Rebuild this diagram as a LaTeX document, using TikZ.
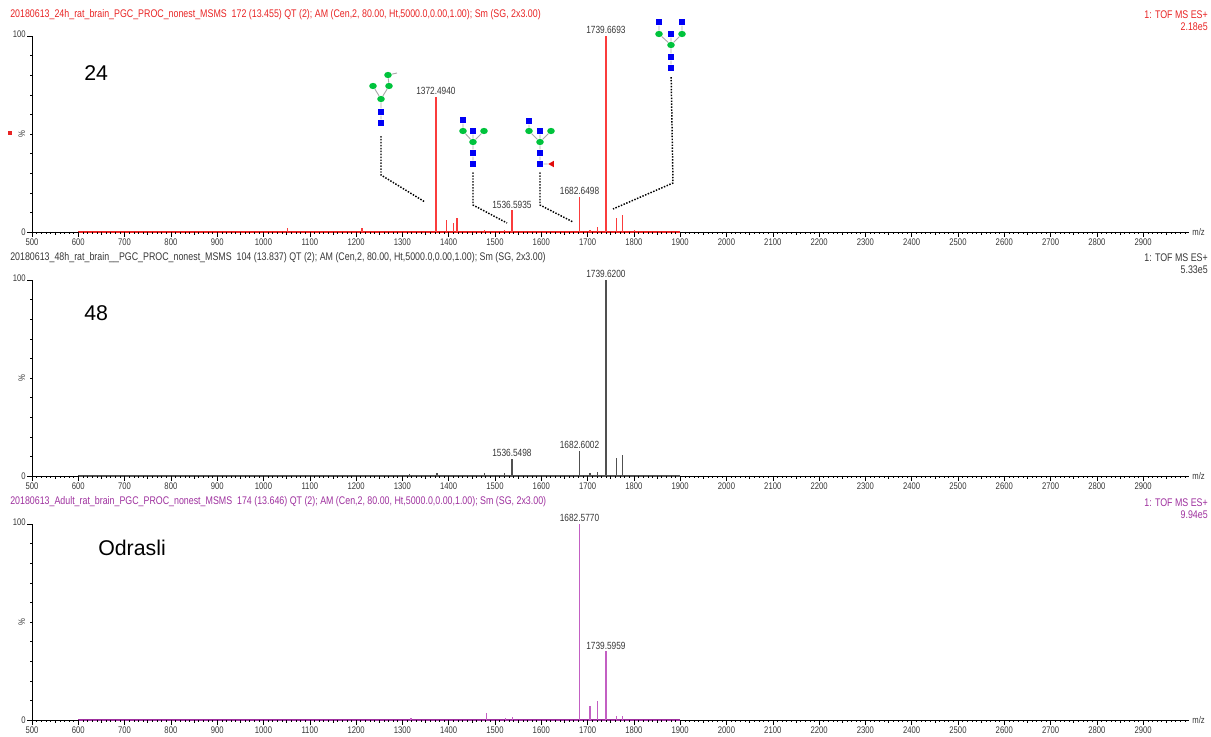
\documentclass[tikz,border=0pt]{standalone}
\usepackage{fontspec}
\setmainfont{Liberation Sans}
\newfontfamily\narrowfont[FakeStretch=0.8]{Liberation Sans}
\usetikzlibrary{shapes.geometric}
\definecolor{msred}{RGB}{232,36,36}
\definecolor{mspeakred}{RGB}{250,60,60}
\definecolor{msgray}{RGB}{55,55,55}
\definecolor{mspeakgray}{RGB}{80,80,80}
\definecolor{mspurple}{RGB}{158,48,158}
\definecolor{mspeakpurple}{RGB}{195,95,195}
\definecolor{glcblue}{RGB}{0,0,245}
\definecolor{mangreen}{RGB}{0,195,60}
\definecolor{fucred}{RGB}{225,10,10}
\definecolor{linkgray}{RGB}{170,170,170}
\newcommand{\smallfont}{\narrowfont\fontsize{7.2pt}{8pt}\selectfont}
\newcommand{\peakfont}{\narrowfont\fontsize{7.8pt}{8.5pt}\selectfont}
\newcommand{\headfont}{\narrowfont\fontsize{8.3pt}{9pt}\selectfont}

\begin{document}
\begin{tikzpicture}[
		x=0.75pt, y=-0.75pt,
		axis/.style={draw=black, line width=0.6pt},
		tick/.style={draw=black, line width=0.4pt},
		ticklab/.style={font=\smallfont, text=msgray, inner sep=0pt},
		peaklab/.style={font=\peakfont, text=msgray, inner sep=1.5pt, above},
		header/.style={font=\headfont, inner sep=0pt},
		bigtext/.style={font=\fontsize{16pt}{18pt}\selectfont, anchor=west, inner sep=0pt},
		peak/.style={line width=1pt},
		glcnac/.style={rectangle, fill=glcblue, minimum size=5.2pt, inner sep=0pt},
		man/.style={ellipse, fill=mangreen, minimum width=5.8pt, minimum height=4.7pt, inner sep=0pt},
		fuc/.style={isosceles triangle, isosceles triangle apex angle=60, shape border rotate=180,
		fill=fucred, minimum size=4.2pt, inner sep=0pt},
		link/.style={draw=linkgray, line width=0.7pt},
		leader/.style={draw=black, line width=1.1pt, dash pattern=on 1.1pt off 1.1pt}
		]
		\useasboundingbox (0,0) rectangle (1211,737);

		% axes of the three spectra
		\foreach \p/\base/\col in {1/232/msred, 2/476/mspeakgray, 3/720/mspurple}{
			\begin{scope}[shift={(-199.5,\base)}, x=0.34725pt, y=1.47pt]
				\draw[axis] (500,0) -- (3000,0);
				\draw[axis] (500,0) -- (500,100);
				\draw[draw=\col, line width=1.2pt] (600,0) -- (1900,0);
				\foreach \m in {500,510,...,2990} \draw[tick] (\m,0) -- ++(0pt,-1.6pt);
				\foreach \m in {550,650,...,2950} \draw[tick] (\m,0) -- ++(0pt,-2.6pt);
				\foreach \m in {500,600,...,2900}{
					\draw[tick] (\m,0) -- ++(0pt,-3.6pt);
					\node[ticklab, below=5pt] (x\p-\m) at (\m,0) {\m};
				}
				\foreach \h in {10,20,...,90} \draw[tick] (500,\h) -- ++(-1.6pt,0pt);
				\draw[tick] (500,0) -- ++(-3.5pt,0pt);
				\draw[tick] (500,100) -- ++(-3.5pt,0pt);
				\node[ticklab, left=4.5pt] (y\p-top) at (500,101) {100};
				\node[ticklab, left=4.5pt] (y\p-zero) at (500,0) {0};
				\node[ticklab, rotate=90] (y\p-pct) at (478,50) {\%};
				\node[ticklab, right=2pt] (x\p-mz) at (3000,0) {m/z};
			\end{scope}
		}

		% 24h
		\node[header, text=msred, anchor=west] (h1) at (10,15)
			{20180613\_24h\_rat\_brain\_PGC\_PROC\_nonest\_MSMS\ \ 172 (13.455) QT (2); AM (Cen,2, 80.00, Ht,5000.0,0.00,1.00); Sm (SG, 2x3.00)};
		\node[header, text=msred, anchor=east] (r1) at (1208,15) {1: TOF MS ES+};
		\node[header, text=msred, anchor=east] (i1) at (1208,27) {2.18e5};
		\node[fill=msred, minimum size=3.6pt, inner sep=0pt] (mark1) at (10,133) {};
		\node[bigtext] (lab1) at (84,73) {24};
		\begin{scope}[shift={(-199.5,232)}, x=0.34725pt, y=1.47pt]
			\foreach \m/\h in {1052/2, 1213/2, 1372.494/69, 1395.6/6, 1411/4.6, 1418/7, 1478/1,
				1521/1, 1536.5935/11, 1682.6498/18, 1705/1, 1722/2.5, 1739.6693/100, 1763/7, 1776/8.7, 1802/1}
				\draw[peak, draw=mspeakred] (\m,0) -- (\m,\h);
			\node[peaklab] (p1-a) at (1372.494,69) {1372.4940};
			\node[peaklab] (p1-b) at (1536.5935,11) {1536.5935};
			\node[peaklab] (p1-c) at (1682.6498,18) {1682.6498};
			\node[peaklab] (p1-d) at (1739.6693,100) {1739.6693};
		\end{scope}

		% glycan at 1372
		\node[glcnac] (a1) at (381,123) {};
		\node[glcnac] (a2) at (381,112) {};
		\node[man] (a3) at (381,99) {};
		\node[man] (a4) at (373,86) {};
		\node[man] (a5) at (389,86) {};
		\node[man] (a6) at (388,75) {};
		\coordinate (a7) at (397,73);
		\draw[link] (a1) -- (a2) -- (a3) -- (a4) (a3) -- (a5) -- (a6) -- (a7);
		\coordinate (a-bend) at (381,175);
		\coordinate (a-tip) at (425,202);
		\draw[leader, shorten <=7pt] (a1) -- (a-bend) -- (a-tip);

		% glycan at 1536
		\node[glcnac] (b1) at (473,164) {};
		\node[glcnac] (b2) at (473,153) {};
		\node[man] (b3) at (473,142) {};
		\node[man] (b4) at (463,131) {};
		\node[glcnac] (b5) at (473,131) {};
		\node[man] (b6) at (484,131) {};
		\node[glcnac] (b7) at (463,120) {};
		\draw[link] (b1) -- (b2) -- (b3) -- (b4) -- (b7) (b3) -- (b5) (b3) -- (b6);
		\coordinate (b-bend) at (473,205);
		\coordinate (b-tip) at (507,223);
		\draw[leader, shorten <=3.5pt] (b1) -- (b-bend) -- (b-tip);

		% glycan at 1682
		\node[glcnac] (c1) at (540,164) {};
		\node[glcnac] (c2) at (540,153) {};
		\node[man] (c3) at (540,142) {};
		\node[man] (c4) at (529,131) {};
		\node[glcnac] (c5) at (540,131) {};
		\node[man] (c6) at (551,131) {};
		\node[glcnac] (c7) at (529,121) {};
		\node[fuc] (c8) at (552,164) {};
		\draw[link] (c1) -- (c2) -- (c3) -- (c4) -- (c7) (c3) -- (c5) (c3) -- (c6) (c1) -- (c8);
		\coordinate (c-bend) at (540,205);
		\coordinate (c-tip) at (573,222);
		\draw[leader, shorten <=3.5pt] (c1) -- (c-bend) -- (c-tip);

		% glycan at 1739
		\node[glcnac] (d1) at (671,68) {};
		\node[glcnac] (d2) at (671,57) {};
		\node[man] (d3) at (671,45) {};
		\node[man] (d4) at (659,34) {};
		\node[glcnac] (d5) at (671,34) {};
		\node[man] (d6) at (682,34) {};
		\node[glcnac] (d7) at (659,22) {};
		\node[glcnac] (d8) at (682,22) {};
		\draw[link] (d1) -- (d2) -- (d3) -- (d4) -- (d7) (d3) -- (d5) (d3) -- (d6) -- (d8);
		\coordinate (d-bend) at (673,183);
		\coordinate (d-tip) at (613,209);
		\draw[leader, shorten <=4pt] (d1) -- (d-bend) -- (d-tip);

		% 48h
		\node[header, text=msgray, anchor=west] (h2) at (10,258)
			{20180613\_48h\_rat\_brain\_\_PGC\_PROC\_nonest\_MSMS\ \ 104 (13.837) QT (2); AM (Cen,2, 80.00, Ht,5000.0,0.00,1.00); Sm (SG, 2x3.00)};
		\node[header, text=msgray, anchor=east] (r2) at (1208,258) {1: TOF MS ES+};
		\node[header, text=msgray, anchor=east] (i2) at (1208,270) {5.33e5};
		\node[bigtext] (lab2) at (84,313) {48};
		\begin{scope}[shift={(-199.5,476)}, x=0.34725pt, y=1.47pt]
			\foreach \m/\h in {1316/1.2, 1375/1.5, 1478/1.5, 1521/1.5, 1536.5498/8.6, 1682.6002/13,
				1705/1.5, 1722/2, 1739.62/100, 1763/9, 1776/10.6}
				\draw[peak, draw=mspeakgray] (\m,0) -- (\m,\h);
			\node[peaklab] (p2-a) at (1536.5498,8.6) {1536.5498};
			\node[peaklab] (p2-b) at (1682.6002,13) {1682.6002};
			\node[peaklab] (p2-c) at (1739.62,100) {1739.6200};
		\end{scope}

		% adult
		\node[header, text=mspurple, anchor=west] (h3) at (10,502)
			{20180613\_Adult\_rat\_brain\_PGC\_PROC\_nonest\_MSMS\ \ 174 (13.646) QT (2); AM (Cen,2, 80.00, Ht,5000.0,0.00,1.00); Sm (SG, 2x3.00)};
		\node[header, text=mspurple, anchor=east] (r3) at (1208,503) {1: TOF MS ES+};
		\node[header, text=mspurple, anchor=east] (i3) at (1208,515) {9.94e5};
		\node[bigtext] (lab3) at (98,548) {Odrasli};
		\begin{scope}[shift={(-199.5,720)}, x=0.34725pt, y=1.47pt]
			\foreach \m/\h in {1318.6/0.8, 1481.6/3.5, 1523/1, 1538/1.6, 1682.577/100, 1705/7,
				1722/9.5, 1739.5959/35, 1763/2, 1776/2}
				\draw[peak, draw=mspeakpurple] (\m,0) -- (\m,\h);
			\node[peaklab] (p3-a) at (1682.577,100) {1682.5770};
			\node[peaklab] (p3-b) at (1739.5959,35) {1739.5959};
		\end{scope}
\end{tikzpicture}
\end{document}
